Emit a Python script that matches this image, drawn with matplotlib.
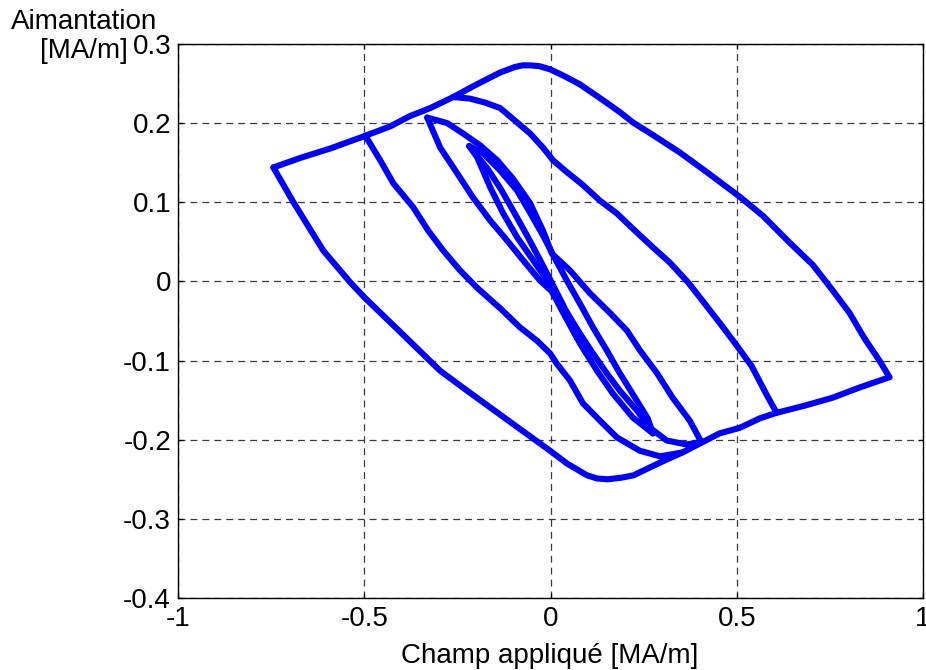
import matplotlib
matplotlib.use("Agg")
import matplotlib.pyplot as plt

plt.rcParams['font.family'] = ['Liberation Sans', 'DejaVu Sans']
plt.rcParams['lines.scale_dashes'] = False
plt.rcParams['axes.unicode_minus'] = False

# Hysteresis measurement: applied field H [MA/m] vs magnetisation M [MA/m].
# Each branch of the cycle is stored as its own pair of lists.

# Major loop, upper branch (left reversal point -> right reversal point)
outer_upper_h = [-0.744, -0.672, -0.591, -0.503, -0.430, -0.377, -0.323, -0.261,
                 -0.202, -0.135, -0.095, -0.075, -0.055, -0.030, -0.001, 0.039,
                 0.079, 0.141, 0.186, 0.221, 0.275, 0.347, 0.420, 0.508, 0.570,
                 0.642, 0.704, 0.757, 0.803, 0.843, 0.883, 0.910]
outer_upper_m = [0.144, 0.156, 0.168, 0.183, 0.196, 0.209, 0.219, 0.233,
                 0.248, 0.264, 0.271, 0.273, 0.273, 0.272, 0.268, 0.259,
                 0.249, 0.229, 0.214, 0.201, 0.185, 0.163, 0.138, 0.107, 0.083,
                 0.049, 0.021, -0.011, -0.040, -0.072, -0.100, -0.121]

# Major loop, lower branch (left reversal point -> right reversal point)
outer_lower_h = [-0.744, -0.690, -0.610, -0.538, -0.500, -0.403, -0.296, -0.224,
                 -0.101, -0.001, 0.044, 0.098, 0.125, 0.154, 0.190, 0.223, 0.267,
                 0.312, 0.355, 0.400, 0.454, 0.508, 0.562, 0.607, 0.682, 0.757,
                 0.830, 0.910]
outer_lower_m = [0.144, 0.100, 0.039, -0.001, -0.020, -0.064, -0.113, -0.138,
                 -0.180, -0.214, -0.230, -0.245, -0.249, -0.250, -0.248, -0.245,
                 -0.235, -0.225, -0.216, -0.205, -0.192, -0.185, -0.173, -0.166,
                 -0.157, -0.147, -0.134, -0.121]

# Minor loop 2 (H between -0.49 and 0.6)
loop2_rise_h = [0.607, 0.580, 0.540, 0.500, 0.460, 0.414, 0.369, 0.320, 0.275,
                0.227, 0.178, 0.133, 0.084, 0.039, 0.007, -0.020, -0.055, -0.090,
                -0.135, -0.176, -0.216, -0.261]
loop2_rise_m = [-0.166, -0.143, -0.107, -0.081, -0.056, -0.028, -0.001, 0.024,
                0.043, 0.064, 0.086, 0.102, 0.123, 0.140, 0.153, 0.169, 0.187,
                0.201, 0.219, 0.226, 0.231, 0.233]
loop2_fall_h = [-0.497, -0.457, -0.422, -0.369, -0.328, -0.288, -0.243, -0.197,
                -0.135, -0.082, -0.036, -0.001, 0.017, 0.052, 0.087, 0.133,
                0.178, 0.240, 0.294, 0.355]
loop2_fall_m = [0.184, 0.153, 0.124, 0.094, 0.064, 0.039, 0.014, -0.008,
                -0.034, -0.058, -0.075, -0.091, -0.104, -0.125, -0.154, -0.176,
                -0.197, -0.214, -0.221, -0.216]

# Minor loop 3 (H between -0.33 and 0.4)
loop3_rise_h = [0.405, 0.374, 0.328, 0.286, 0.240, 0.205, 0.160, 0.106, 0.052,
                0.004, -0.020, -0.055, -0.101, -0.143, -0.189, -0.235, -0.277,
                -0.331]
loop3_rise_m = [-0.203, -0.176, -0.147, -0.116, -0.087, -0.062, -0.040, -0.015,
                0.014, 0.035, 0.064, 0.099, 0.130, 0.153, 0.172, 0.187, 0.200,
                0.207]
loop3_fall_h = [-0.331, -0.296, -0.251, -0.208, -0.162, -0.117, -0.074, -0.028,
                0.007, 0.044, 0.079, 0.114, 0.151, 0.186, 0.232, 0.267, 0.312,
                0.365, 0.405]
loop3_fall_m = [0.207, 0.169, 0.137, 0.106, 0.077, 0.052, 0.027, 0.001,
                -0.014, -0.039, -0.066, -0.091, -0.116, -0.138, -0.163, -0.185,
                -0.201, -0.206, -0.203]

# Minor loop 4 (H between -0.22 and 0.27)
loop4_rise_h = [0.275, 0.261, 0.227, 0.186, 0.151, 0.114, 0.079, 0.044, 0.012,
                -0.020, -0.055, -0.090, -0.135, -0.181, -0.218]
loop4_rise_m = [-0.192, -0.173, -0.147, -0.116, -0.087, -0.058, -0.028, 0.001,
                0.029, 0.058, 0.087, 0.115, 0.140, 0.162, 0.171]
loop4_fall_h = [-0.218, -0.197, -0.162, -0.127, -0.090, -0.047, -0.009, 0.017,
                0.044, 0.079, 0.125, 0.168, 0.221, 0.275]
loop4_fall_m = [0.171, 0.157, 0.119, 0.086, 0.056, 0.027, 0.001, -0.021,
                -0.047, -0.078, -0.113, -0.142, -0.172, -0.192]

# Innermost loop starting from the demagnetised state
loop5_fall_h = [0.000, 0.004, 0.039, 0.071, 0.095]
loop5_fall_m = [0.000, -0.013, -0.044, -0.071, -0.090]
loop5_rise_h = [0.095, 0.066, 0.034, 0.007, -0.028, -0.063, -0.101, -0.135,
                -0.170, -0.218]
loop5_rise_m = [-0.090, -0.062, -0.030, -0.005, 0.027, 0.058, 0.090, 0.118,
                0.143, 0.171]

branches = [
    (loop5_fall_h, loop5_fall_m), (loop5_rise_h, loop5_rise_m),
    (loop4_fall_h, loop4_fall_m), (loop4_rise_h, loop4_rise_m),
    (loop3_fall_h, loop3_fall_m), (loop3_rise_h, loop3_rise_m),
    (loop2_fall_h, loop2_fall_m), (loop2_rise_h, loop2_rise_m),
    (outer_lower_h, outer_lower_m), (outer_upper_h, outer_upper_m),
]

x_ticks = [-1, -0.5, 0, 0.5, 1]
x_tick_labels = ["-1", "-0.5", "0", "0.5", "1"]
y_ticks = [-0.4, -0.3, -0.2, -0.1, 0, 0.1, 0.2, 0.3]
y_tick_labels = ["-0.4", "-0.3", "-0.2", "-0.1", "0", "0.1", "0.2", "0.3"]

FS = 20

fig = plt.figure(figsize=(9.26, 6.70), dpi=100)
ax = fig.add_axes([178 / 926, 72 / 670, 745 / 926, 554 / 670])

for h, m in branches:
    ax.plot(h, m, color='#0000ff', lw=4.4, solid_joinstyle='round',
            solid_capstyle='round', zorder=3)

ax.set_xlim(-1, 1)
ax.set_ylim(-0.4, 0.3)
ax.set_xticks(x_ticks)
ax.set_xticklabels(x_tick_labels)
ax.set_yticks(y_ticks)
ax.set_yticklabels(y_tick_labels)

ax.grid(True, color='#3a3a3a', lw=0.9, dashes=(5.0, 3.6), zorder=1)
for s in ax.spines.values():
    s.set_linewidth(1.0)
    s.set_color('black')

ax.tick_params(direction='in', length=3.5, width=0.9, top=True, right=True,
               labelsize=FS, colors='black')
ax.tick_params(axis='x', pad=6)
ax.tick_params(axis='y', pad=5)

fig.text(550 / 926, (670 - 663) / 670, "Champ appliqué [MA/m]", ha='center',
         va='baseline', fontsize=FS)
fig.text(84 / 926, (670 - 29) / 670, "Aimantation", ha='center',
         va='baseline', fontsize=FS)
fig.text(84 / 926, (670 - 58) / 670, "[MA/m]", ha='center',
         va='baseline', fontsize=FS)

fig.savefig("out.png", dpi=100)
